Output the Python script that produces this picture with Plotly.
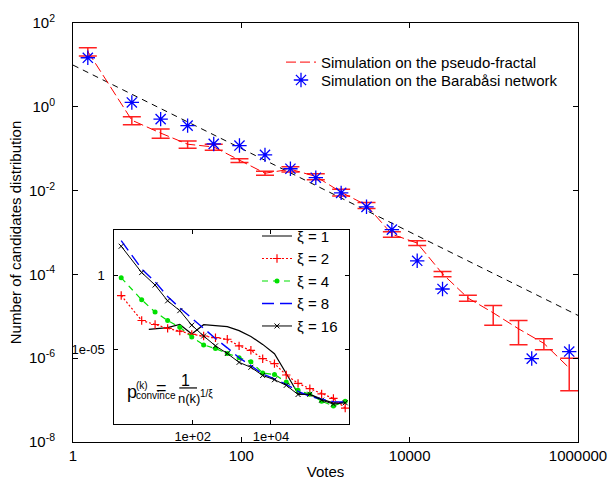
import plotly.graph_objects as go

# ---------------- data ----------------
votes = [1.5, 5, 11, 23, 47, 95, 191, 383, 767, 1535, 3071, 6143, 12287,
         24575, 49151, 98303, 196607, 393215, 786431]
fractal_dist = [20.9, 0.478, 0.236, 0.128, 0.110, 0.0522, 0.026, 0.0324, 0.0218,
                0.00914, 0.00447, 0.00091, 0.00056, 1.03e-4, 2.74e-5, 1.21e-5,
                5.03e-6, 2.26e-6, 5.84e-7]
fractal_err = [4.7, 0.103, 0.059, 0.025, 0.018, 0.0051, 0.0028, 0.0047, 0.0036,
               0.00166, 0.00072, 0.000135, 7.15e-5, 1.5e-5, 4.5e-6, 6.0e-6,
               2.95e-6, 6.6e-7, 4.16e-7]

barabasi_votes = [1.5, 5, 11, 23, 47, 95, 191, 383, 767, 1535, 3071, 6143,
                  12287, 24575, 282000, 786431]
barabasi_dist = [14.8, 1.27, 0.509, 0.355, 0.130, 0.119, 0.0713, 0.0332, 0.0203,
                 0.00881, 0.0041, 0.00117, 2.11e-4, 4.48e-5, 9.8e-7, 1.44e-6]

fit_votes = [1, 1e6]
fit_dist = [9.9, 1.05e-5]

# inset
xi1_votes = [7.6, 11, 23, 47, 95, 191, 383, 767, 1535, 3071, 6143, 12287, 24575,
             49151, 98303, 196607, 393215, 786431]
xi1 = [2.32e-4, 2.62e-4, 3.05e-4, 4.95e-4, 1.13e-4, 4.81e-4, 4.13e-4, 3.55e-4,
       1.93e-4, 7.74e-5, 2.29e-5, 5.40e-6, 2.57e-7, 1.14e-8, 1.05e-8, 4.92e-9,
       2.68e-9, 3.12e-9]
xi2 = [4.29e-2, 9.12e-4, 4.95e-4, 2.70e-4, 1.79e-4, 1.08e-4, 8.36e-5, 6.46e-5,
       5.06e-5, 1.82e-5, 9.20e-6, 2.52e-6, 1.18e-6, 2.05e-7, 5.62e-8, 2.51e-8,
       1.10e-8, 5.47e-9, 1.25e-9]
xi4 = [0.664, 2.23e-2, 3.37e-3, 9.12e-4, 3.29e-4, 7.18e-5, 2.12e-5, 1.21e-5,
       5.65e-6, 2.94e-6, 1.60e-6, 2.78e-7, 2.21e-7, 6.84e-8, 1.94e-8, 1.05e-8,
       3.63e-9, 1.69e-9, 3.63e-9]
xi8 = [205.6, 2.61, 0.361, 3.67e-2, 6.40e-3, 1.29e-3, 2.43e-4, 5.71e-5, 1.35e-5,
       2.94e-6, 8.69e-7, 2.38e-7, 1.11e-7, 4.82e-8, 1.66e-8, 7.76e-9, 4.92e-9,
       3.37e-9, 3.12e-9]
xi16 = [86.5, 1.49, 0.218, 1.91e-2, 4.18e-3, 4.46e-4, 8.36e-5, 1.82e-5, 5.65e-6,
        1.44e-6, 6.71e-7, 1.90e-7, 9.86e-8, 4.14e-8, 1.01e-8, 1.05e-8, 4.23e-9,
        2.30e-9, 2.80e-9]

main_xticks = [1, 100, 1e4, 1e6]
main_xticktext = ["1", "100", "10000", "1000000"]
main_yticks = [1e2, 1, 1e-2, 1e-4, 1e-6, 1e-8]
main_yticktext = ["10<sup>2</sup>", "10<sup>0</sup>", "10<sup>-2</sup>",
                  "10<sup>-4</sup>", "10<sup>-6</sup>", "10<sup>-8</sup>"]
inset_xticks = [1e2, 1e4]
inset_xticktext = ["1e+02", "1e+04"]
inset_yticks = [1, 1e-5]
inset_yticktext = ["1", "1e-05"]

FONT = "Liberation Sans, Arial, sans-serif"
W, H = 610, 480
L, R, T, B = 73, 578, 20, 441.7


def px(x):
    return (x - L) / (R - L)


def py(y):
    return (B - y) / (B - T)


fig = go.Figure()

fig.add_trace(go.Scatter(
    x=fit_votes, y=fit_dist, mode="lines", showlegend=False,
    line=dict(color="black", width=1, dash="6px,5px"), xaxis="x", yaxis="y"))

fig.add_trace(go.Scatter(
    x=votes, y=fractal_dist, mode="lines", name="Simulation on the pseudo-fractal",
    line=dict(color="#ff0000", width=1, dash="10px,4px"),
    error_y=dict(type="data", array=fractal_err, symmetric=True,
                 color="#ff2020", thickness=1.5, width=9),
    xaxis="x", yaxis="y", legend="legend"))

fig.add_trace(go.Scatter(
    x=barabasi_votes, y=barabasi_dist, mode="markers",
    name="Simulation on the Barab\u00e5si network",
    marker=dict(symbol="asterisk-open", size=12, color="#0000ff",
                line=dict(color="#0000ff", width=1.3)),
    xaxis="x", yaxis="y", legend="legend3"))

# inset traces
fig.add_trace(go.Scatter(
    x=xi1_votes, y=xi1, mode="lines", name="\u03be = 1",
    line=dict(color="black", width=1.2), xaxis="x2", yaxis="y2",
    legend="legend2", legendgroup="a"))
fig.add_trace(go.Scatter(
    x=votes, y=xi2, mode="lines+markers", name="\u03be = 2",
    line=dict(color="#ff0000", width=1.2, dash="2px,2px"),
    marker=dict(symbol="cross-thin-open", size=6, line=dict(color="#ff0000", width=1.2)),
    xaxis="x2", yaxis="y2", legend="legend2", legendgroup="b"))
fig.add_trace(go.Scatter(
    x=votes, y=xi4, mode="lines+markers", name="\u03be = 4",
    line=dict(color="#00e000", width=1.2, dash="6px,5px"),
    marker=dict(symbol="circle", size=5, color="#00e000"),
    xaxis="x2", yaxis="y2", legend="legend2", legendgroup="c"))
fig.add_trace(go.Scatter(
    x=votes, y=xi8, mode="lines", name="\u03be = 8",
    line=dict(color="#0000ff", width=1.4, dash="12px,6px"),
    xaxis="x2", yaxis="y2", legend="legend2", legendgroup="d"))
fig.add_trace(go.Scatter(
    x=votes, y=xi16, mode="lines+markers", name="\u03be = 16",
    line=dict(color="black", width=1),
    marker=dict(symbol="x-thin-open", size=5, line=dict(color="black", width=1)),
    xaxis="x2", yaxis="y2", legend="legend2", legendgroup="e"))

axis_common = dict(type="log", showgrid=False, zeroline=False, showline=True,
                   linecolor="black", linewidth=1, mirror="ticks", ticks="inside",
                   tickcolor="black", automargin=False,
                   tickfont=dict(family=FONT, size=15, color="black"))

fig.update_layout(
    width=W, height=H, margin=dict(l=L, r=W - R, t=T, b=H - B),
    paper_bgcolor="white", plot_bgcolor="white",
    font=dict(family=FONT, size=15, color="black"),
    xaxis=dict(axis_common, range=[0, 6], domain=[0, 1], anchor="y",
               tickvals=main_xticks, ticktext=main_xticktext, ticklen=5,
               ticklabelstandoff=0,
               title=dict(text="Votes", font=dict(size=15))),
    yaxis=dict(axis_common, range=[-8, 2], domain=[0, 1], anchor="x",
               tickvals=main_yticks, ticktext=main_yticktext, ticklen=5,
               ticklabelstandoff=14, automargin=True,
               title=dict(text="Number of candidates distribution", standoff=3,
                          font=dict(size=15))),
    xaxis2=dict(axis_common, range=[0, 6], domain=[px(114.3), px(349.3)], anchor="y2",
                tickvals=inset_xticks, ticktext=inset_xticktext, ticklen=4,
                tickfont=dict(family=FONT, size=13, color="black")),
    yaxis2=dict(axis_common, range=[-10, 3], domain=[py(424), py(228.7)], anchor="x2",
                tickvals=inset_yticks, ticktext=inset_yticktext, ticklen=4,
                ticklabelstandoff=6,
                tickfont=dict(family=FONT, size=13, color="black")),
    legend=dict(x=px(281), y=py(43), xanchor="left", yanchor="top",
                bgcolor="rgba(0,0,0,0)", font=dict(family=FONT, size=15)),
    legend3=dict(x=px(281), y=py(61), xanchor="left", yanchor="top",
                 bgcolor="rgba(0,0,0,0)", font=dict(family=FONT, size=15)),
    legend2=dict(x=px(257), y=py(218), xanchor="left", yanchor="top",
                 bgcolor="rgba(0,0,0,0)", font=dict(family=FONT, size=15),
                 tracegroupgap=0),
)

# formula text inside the inset
ann = [
    dict(text="p", x=125, y=391, size=18, xanchor="left"),
    dict(text="(k)", x=134, y=385, size=10, xanchor="left"),
    dict(text="convince", x=134, y=395.3, size=10, xanchor="left"),
    dict(text="=", x=154, y=387.3, size=18, xanchor="left"),
    dict(text="1", x=185.8, y=380.2, size=16, xanchor="center"),
    dict(text="n(k)", x=188.5, y=398.4, size=13, xanchor="center"),
    dict(text="1/\u03be", x=198, y=393.5, size=10, xanchor="left"),
]
for a in ann:
    fig.add_annotation(text=a["text"], x=px(a["x"]), y=py(a["y"]),
                       xref="paper", yref="paper",
                       xanchor=a["xanchor"], yanchor="middle", showarrow=False,
                       font=dict(family=FONT, size=a["size"], color="black"))
fig.add_shape(type="line", xref="paper", yref="paper",
              x0=px(179.3), x1=px(197), y0=py(387.3), y1=py(387.3),
              line=dict(color="black", width=1.2))

fig.write_html("out.html")
